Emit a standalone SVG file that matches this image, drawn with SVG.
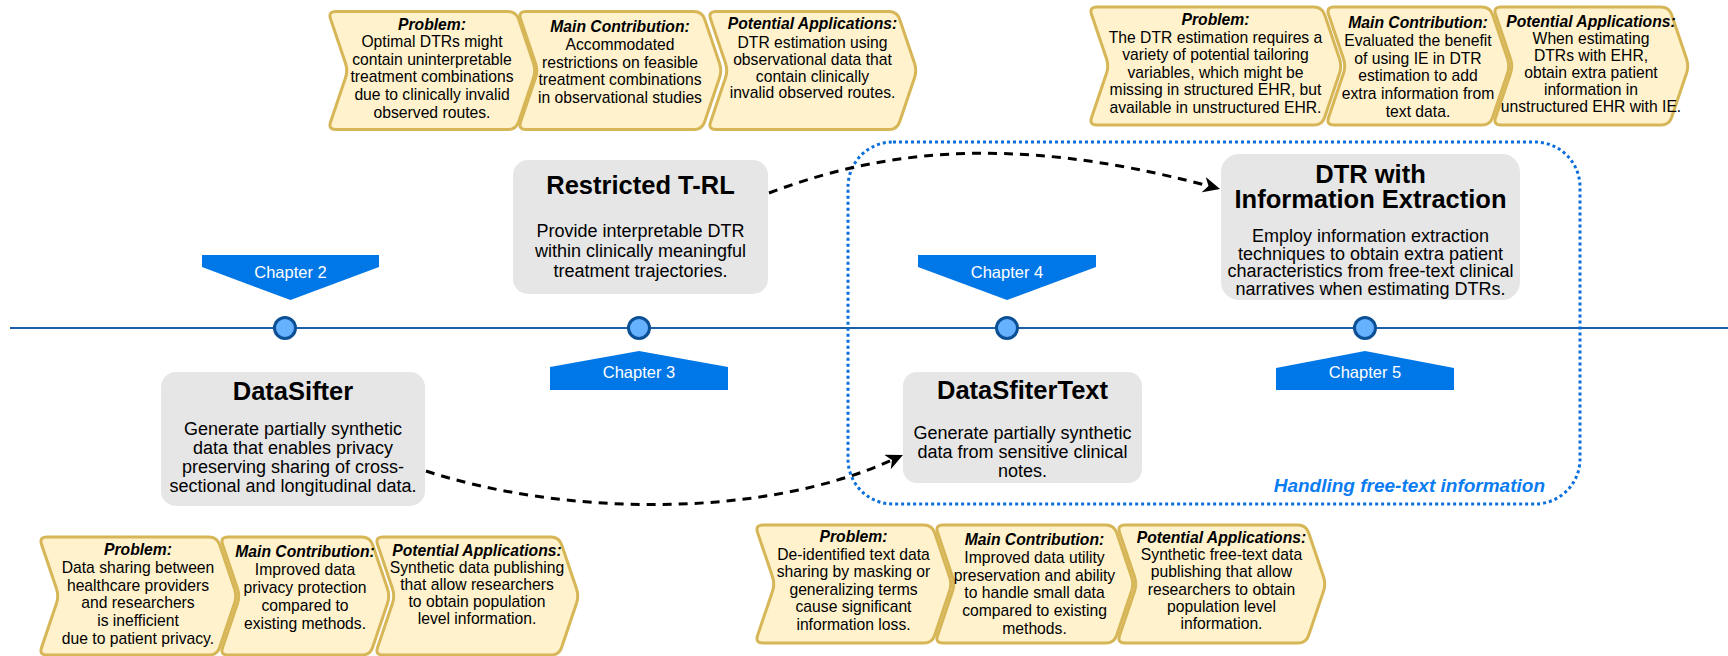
<svg xmlns="http://www.w3.org/2000/svg" width="1728" height="656" viewBox="0 0 1728 656">
<style>
text{font-family:"Liberation Sans",Arial,Helvetica,sans-serif;}
.cv{fill:#FFF2CC;stroke:#D6B656;stroke-width:3;}
.ct{font-size:15.7px;fill:#000;text-anchor:middle;}
.ch{font-weight:bold;font-style:italic;}
.box{fill:#E6E6E6;stroke:none;}
.tt{font-size:25.5px;font-weight:bold;text-anchor:middle;fill:#000;}
.bd{font-size:18px;text-anchor:middle;fill:#000;}
.chap{fill:#0077E6;stroke:none;}
.chapt{font-size:16.5px;fill:#FFFFFF;text-anchor:middle;}
.dot{fill:#66B2FF;stroke:#0B4F94;stroke-width:3;}
.conn{fill:none;stroke:#000;stroke-width:3;stroke-dasharray:9 7;}
</style>
<defs>
<marker id="arr" markerUnits="userSpaceOnUse" markerWidth="18" markerHeight="16" refX="5" refY="8" orient="auto">
<path d="M0,0 L17,8 L0,16 L5,8 Z" fill="#000"/>
</marker>
</defs>

<g id="timeline">
<line x1="10" y1="328" x2="1728" y2="328" stroke="#1B5FA6" stroke-width="2"/>
</g>

<g id="container-freetext">
<rect x="848" y="142" width="732" height="362" rx="45" ry="45" fill="none" stroke="#0A6FDB" stroke-width="3" stroke-dasharray="3 3"/>
<text x="1545" y="492" font-size="19px" font-weight="bold" font-style="italic" fill="#0A7CF2" text-anchor="end">Handling free-text information</text>
</g>

<g id="chapter2">
<path class="chap" d="M202 255 H379 V267 L290.5 300 L202 267 Z"/>
<text class="chapt" x="290.5" y="278">Chapter 2</text>
</g>
<g id="chapter3">
<path class="chap" d="M550 390 H728 V367 L639 351 L550 367 Z"/>
<text class="chapt" x="639" y="378">Chapter 3</text>
</g>
<g id="chapter4">
<path class="chap" d="M918 255 H1096 V267 L1007 300 L918 267 Z"/>
<text class="chapt" x="1007" y="278">Chapter 4</text>
</g>
<g id="chapter5">
<path class="chap" d="M1276 390 H1454 V368 L1365 351 L1276 368 Z"/>
<text class="chapt" x="1365" y="378">Chapter 5</text>
</g>

<g id="milestones">
<circle class="dot" cx="285" cy="328" r="10.5"/>
<circle class="dot" cx="639" cy="328" r="10.5"/>
<circle class="dot" cx="1007" cy="328" r="10.5"/>
<circle class="dot" cx="1365" cy="328" r="10.5"/>
</g>

<g id="node-restricted-trl">
<rect class="box" x="513" y="160" width="255" height="134" rx="15" ry="15"/>
<text class="tt" x="640.5" y="193.5">Restricted T-RL</text>
<text class="bd"><tspan x="640.5" y="237">Provide interpretable DTR</tspan><tspan x="640.5" y="257">within clinically meaningful</tspan><tspan x="640.5" y="277">treatment trajectories.</tspan></text>
</g>

<g id="node-datasifter">
<rect class="box" x="161" y="372" width="264" height="134" rx="15" ry="15"/>
<text class="tt" x="293" y="399.5">DataSifter</text>
<text class="bd"><tspan x="293" y="435">Generate partially synthetic</tspan><tspan x="293" y="454">data that enables privacy</tspan><tspan x="293" y="473">preserving sharing of cross-</tspan><tspan x="293" y="492">sectional and longitudinal data.</tspan></text>
</g>

<g id="node-dtr-ie">
<rect class="box" x="1221" y="154" width="299" height="146" rx="18" ry="18"/>
<text class="tt"><tspan x="1370.5" y="183">DTR with</tspan><tspan x="1370.5" y="208">Information Extraction</tspan></text>
<text class="bd"><tspan x="1370.5" y="242">Employ information extraction</tspan><tspan x="1370.5" y="259.7">techniques to obtain extra patient</tspan><tspan x="1370.5" y="277.4">characteristics from free-text clinical</tspan><tspan x="1370.5" y="295.1">narratives when estimating DTRs.</tspan></text>
</g>

<g id="node-datasfitertext">
<rect class="box" x="903" y="372" width="239" height="111" rx="14" ry="14"/>
<text class="tt" x="1022.5" y="399">DataSfiterText</text>
<text class="bd"><tspan x="1022.5" y="439">Generate partially synthetic</tspan><tspan x="1022.5" y="458">data from sensitive clinical</tspan><tspan x="1022.5" y="477">notes.</tspan></text>
</g>

<g id="connectors">
<path class="conn" d="M769 193 C870 155, 1000 130, 1208.5 186" marker-end="url(#arr)"/>
<path class="conn" d="M426 471 C560 515, 760 520, 892 460" marker-end="url(#arr)"/>
</g>

<g id="tl-problem" transform="translate(328,11.5)">
<path class="cv" d="M8 0 L180 0 Q188 0 190.57 7.58 L205.43 51.42 Q208 59 205.43 66.58 L190.57 110.42 Q188 118 180 118 L8 118 Q0 118 2.57 110.42 L17.43 66.58 Q20 59 17.43 51.42 L2.57 7.58 Q0 0 8 0Z"/>
<text class="ct"><tspan class="ch" x="104" y="18">Problem:</tspan><tspan x="104" y="35.6">Optimal DTRs might</tspan><tspan x="104" y="53.2">contain uninterpretable</tspan><tspan x="104" y="70.8">treatment combinations</tspan><tspan x="104" y="88.4">due to clinically invalid</tspan><tspan x="104" y="106">observed routes.</tspan></text>
</g>
<g id="tl-contribution" transform="translate(518,11.5)">
<path class="cv" d="M8 0 L176 0 Q184 0 186.57 7.58 L201.43 51.42 Q204 59 201.43 66.58 L186.57 110.42 Q184 118 176 118 L8 118 Q0 118 2.57 110.42 L17.43 66.58 Q20 59 17.43 51.42 L2.57 7.58 Q0 0 8 0Z"/>
<text class="ct"><tspan class="ch" x="102" y="20.5">Main Contribution:</tspan><tspan x="102" y="38.3">Accommodated</tspan><tspan x="102" y="56">restrictions on feasible</tspan><tspan x="102" y="73.8">treatment combinations</tspan><tspan x="102" y="91.5">in observational studies</tspan></text>
</g>
<g id="tl-applications" transform="translate(708,11.5)">
<path class="cv" d="M8 0 L181 0 Q189 0 191.57 7.58 L206.43 51.42 Q209 59 206.43 66.58 L191.57 110.42 Q189 118 181 118 L8 118 Q0 118 2.57 110.42 L17.43 66.58 Q20 59 17.43 51.42 L2.57 7.58 Q0 0 8 0Z"/>
<text class="ct"><tspan class="ch" x="104.5" y="17.8">Potential Applications:</tspan><tspan x="104.5" y="36">DTR estimation using</tspan><tspan x="104.5" y="53.3">observational data that</tspan><tspan x="104.5" y="70.2">contain clinically</tspan><tspan x="104.5" y="86.5">invalid observed routes.</tspan></text>
</g>

<g id="tr-problem" transform="translate(1089,7)">
<path class="cv" d="M8 0 L225 0 Q233 0 235.57 7.58 L250.43 51.42 Q253 59 250.43 66.58 L235.57 110.42 Q233 118 225 118 L8 118 Q0 118 2.57 110.42 L17.43 66.58 Q20 59 17.43 51.42 L2.57 7.58 Q0 0 8 0Z"/>
<text class="ct"><tspan class="ch" x="126.5" y="18">Problem:</tspan><tspan x="126.5" y="35.5">The DTR estimation requires a</tspan><tspan x="126.5" y="53">variety of potential tailoring</tspan><tspan x="126.5" y="70.5">variables, which might be</tspan><tspan x="126.5" y="88">missing in structured EHR, but</tspan><tspan x="126.5" y="105.5">available in unstructured EHR.</tspan></text>
</g>
<g id="tr-contribution" transform="translate(1326,7)">
<path class="cv" d="M8 0 L156 0 Q164 0 166.57 7.58 L181.43 51.42 Q184 59 181.43 66.58 L166.57 110.42 Q164 118 156 118 L8 118 Q0 118 2.57 110.42 L17.43 66.58 Q20 59 17.43 51.42 L2.57 7.58 Q0 0 8 0Z"/>
<text class="ct"><tspan class="ch" x="92" y="21.3">Main Contribution:</tspan><tspan x="92" y="39">Evaluated the benefit</tspan><tspan x="92" y="56.7">of using IE in DTR</tspan><tspan x="92" y="74.4">estimation to add</tspan><tspan x="92" y="92">extra information from</tspan><tspan x="92" y="109.7">text data.</tspan></text>
</g>
<g id="tr-applications" transform="translate(1493,7)">
<path class="cv" d="M8 0 L168 0 Q176 0 178.57 7.58 L193.43 51.42 Q196 59 193.43 66.58 L178.57 110.42 Q176 118 168 118 L8 118 Q0 118 2.57 110.42 L17.43 66.58 Q20 59 17.43 51.42 L2.57 7.58 Q0 0 8 0Z"/>
<text class="ct"><tspan class="ch" x="98" y="20">Potential Applications:</tspan><tspan x="98" y="37">When estimating</tspan><tspan x="98" y="54">DTRs with EHR,</tspan><tspan x="98" y="71">obtain extra patient</tspan><tspan x="98" y="88">information in</tspan><tspan x="98" y="105">unstructured EHR with IE.</tspan></text>
</g>

<g id="bl-problem" transform="translate(39,537)">
<path class="cv" d="M8 0 L170 0 Q178 0 180.57 7.58 L195.43 51.42 Q198 59 195.43 66.58 L180.57 110.42 Q178 118 170 118 L8 118 Q0 118 2.57 110.42 L17.43 66.58 Q20 59 17.43 51.42 L2.57 7.58 Q0 0 8 0Z"/>
<text class="ct"><tspan class="ch" x="99" y="18">Problem:</tspan><tspan x="99" y="35.8">Data sharing between</tspan><tspan x="99" y="53.6">healthcare providers</tspan><tspan x="99" y="71.4">and researchers</tspan><tspan x="99" y="89.2">is inefficient</tspan><tspan x="99" y="107">due to patient privacy.</tspan></text>
</g>
<g id="bl-contribution" transform="translate(220,537)">
<path class="cv" d="M8 0 L142 0 Q150 0 152.57 7.58 L167.43 51.42 Q170 59 167.43 66.58 L152.57 110.42 Q150 118 142 118 L8 118 Q0 118 2.57 110.42 L17.43 66.58 Q20 59 17.43 51.42 L2.57 7.58 Q0 0 8 0Z"/>
<text class="ct"><tspan class="ch" x="85" y="20.3">Main Contribution:</tspan><tspan x="85" y="38.3">Improved data</tspan><tspan x="85" y="56.3">privacy protection</tspan><tspan x="85" y="74.3">compared to</tspan><tspan x="85" y="92.3">existing methods.</tspan></text>
</g>
<g id="bl-applications" transform="translate(375,537)">
<path class="cv" d="M8 0 L176 0 Q184 0 186.57 7.58 L201.43 51.42 Q204 59 201.43 66.58 L186.57 110.42 Q184 118 176 118 L8 118 Q0 118 2.57 110.42 L17.43 66.58 Q20 59 17.43 51.42 L2.57 7.58 Q0 0 8 0Z"/>
<text class="ct"><tspan class="ch" x="102" y="19">Potential Applications:</tspan><tspan x="102" y="36">Synthetic data publishing</tspan><tspan x="102" y="53">that allow researchers</tspan><tspan x="102" y="70">to obtain population</tspan><tspan x="102" y="86.5">level information.</tspan></text>
</g>

<g id="bc-problem" transform="translate(755,525)">
<path class="cv" d="M8 0 L169 0 Q177 0 179.57 7.58 L194.43 51.42 Q197 59 194.43 66.58 L179.57 110.42 Q177 118 169 118 L8 118 Q0 118 2.57 110.42 L17.43 66.58 Q20 59 17.43 51.42 L2.57 7.58 Q0 0 8 0Z"/>
<text class="ct"><tspan class="ch" x="98.5" y="17">Problem:</tspan><tspan x="98.5" y="34.6">De-identified text data</tspan><tspan x="98.5" y="52.2">sharing by masking or</tspan><tspan x="98.5" y="69.8">generalizing terms</tspan><tspan x="98.5" y="87.4">cause significant</tspan><tspan x="98.5" y="105">information loss.</tspan></text>
</g>
<g id="bc-contribution" transform="translate(935,525)">
<path class="cv" d="M8 0 L171 0 Q179 0 181.57 7.58 L196.43 51.42 Q199 59 196.43 66.58 L181.57 110.42 Q179 118 171 118 L8 118 Q0 118 2.57 110.42 L17.43 66.58 Q20 59 17.43 51.42 L2.57 7.58 Q0 0 8 0Z"/>
<text class="ct"><tspan class="ch" x="99.5" y="20">Main Contribution:</tspan><tspan x="99.5" y="37.8">Improved data utility</tspan><tspan x="99.5" y="55.6">preservation and ability</tspan><tspan x="99.5" y="73.4">to handle small data</tspan><tspan x="99.5" y="91.2">compared to existing</tspan><tspan x="99.5" y="109">methods.</tspan></text>
</g>
<g id="bc-applications" transform="translate(1117,525)">
<path class="cv" d="M8 0 L181 0 Q189 0 191.57 7.58 L206.43 51.42 Q209 59 206.43 66.58 L191.57 110.42 Q189 118 181 118 L8 118 Q0 118 2.57 110.42 L17.43 66.58 Q20 59 17.43 51.42 L2.57 7.58 Q0 0 8 0Z"/>
<text class="ct"><tspan class="ch" x="104.5" y="18">Potential Applications:</tspan><tspan x="104.5" y="35.2">Synthetic free-text data</tspan><tspan x="104.5" y="52.4">publishing that allow</tspan><tspan x="104.5" y="69.6">researchers to obtain</tspan><tspan x="104.5" y="86.8">population level</tspan><tspan x="104.5" y="104">information.</tspan></text>
</g>
</svg>
